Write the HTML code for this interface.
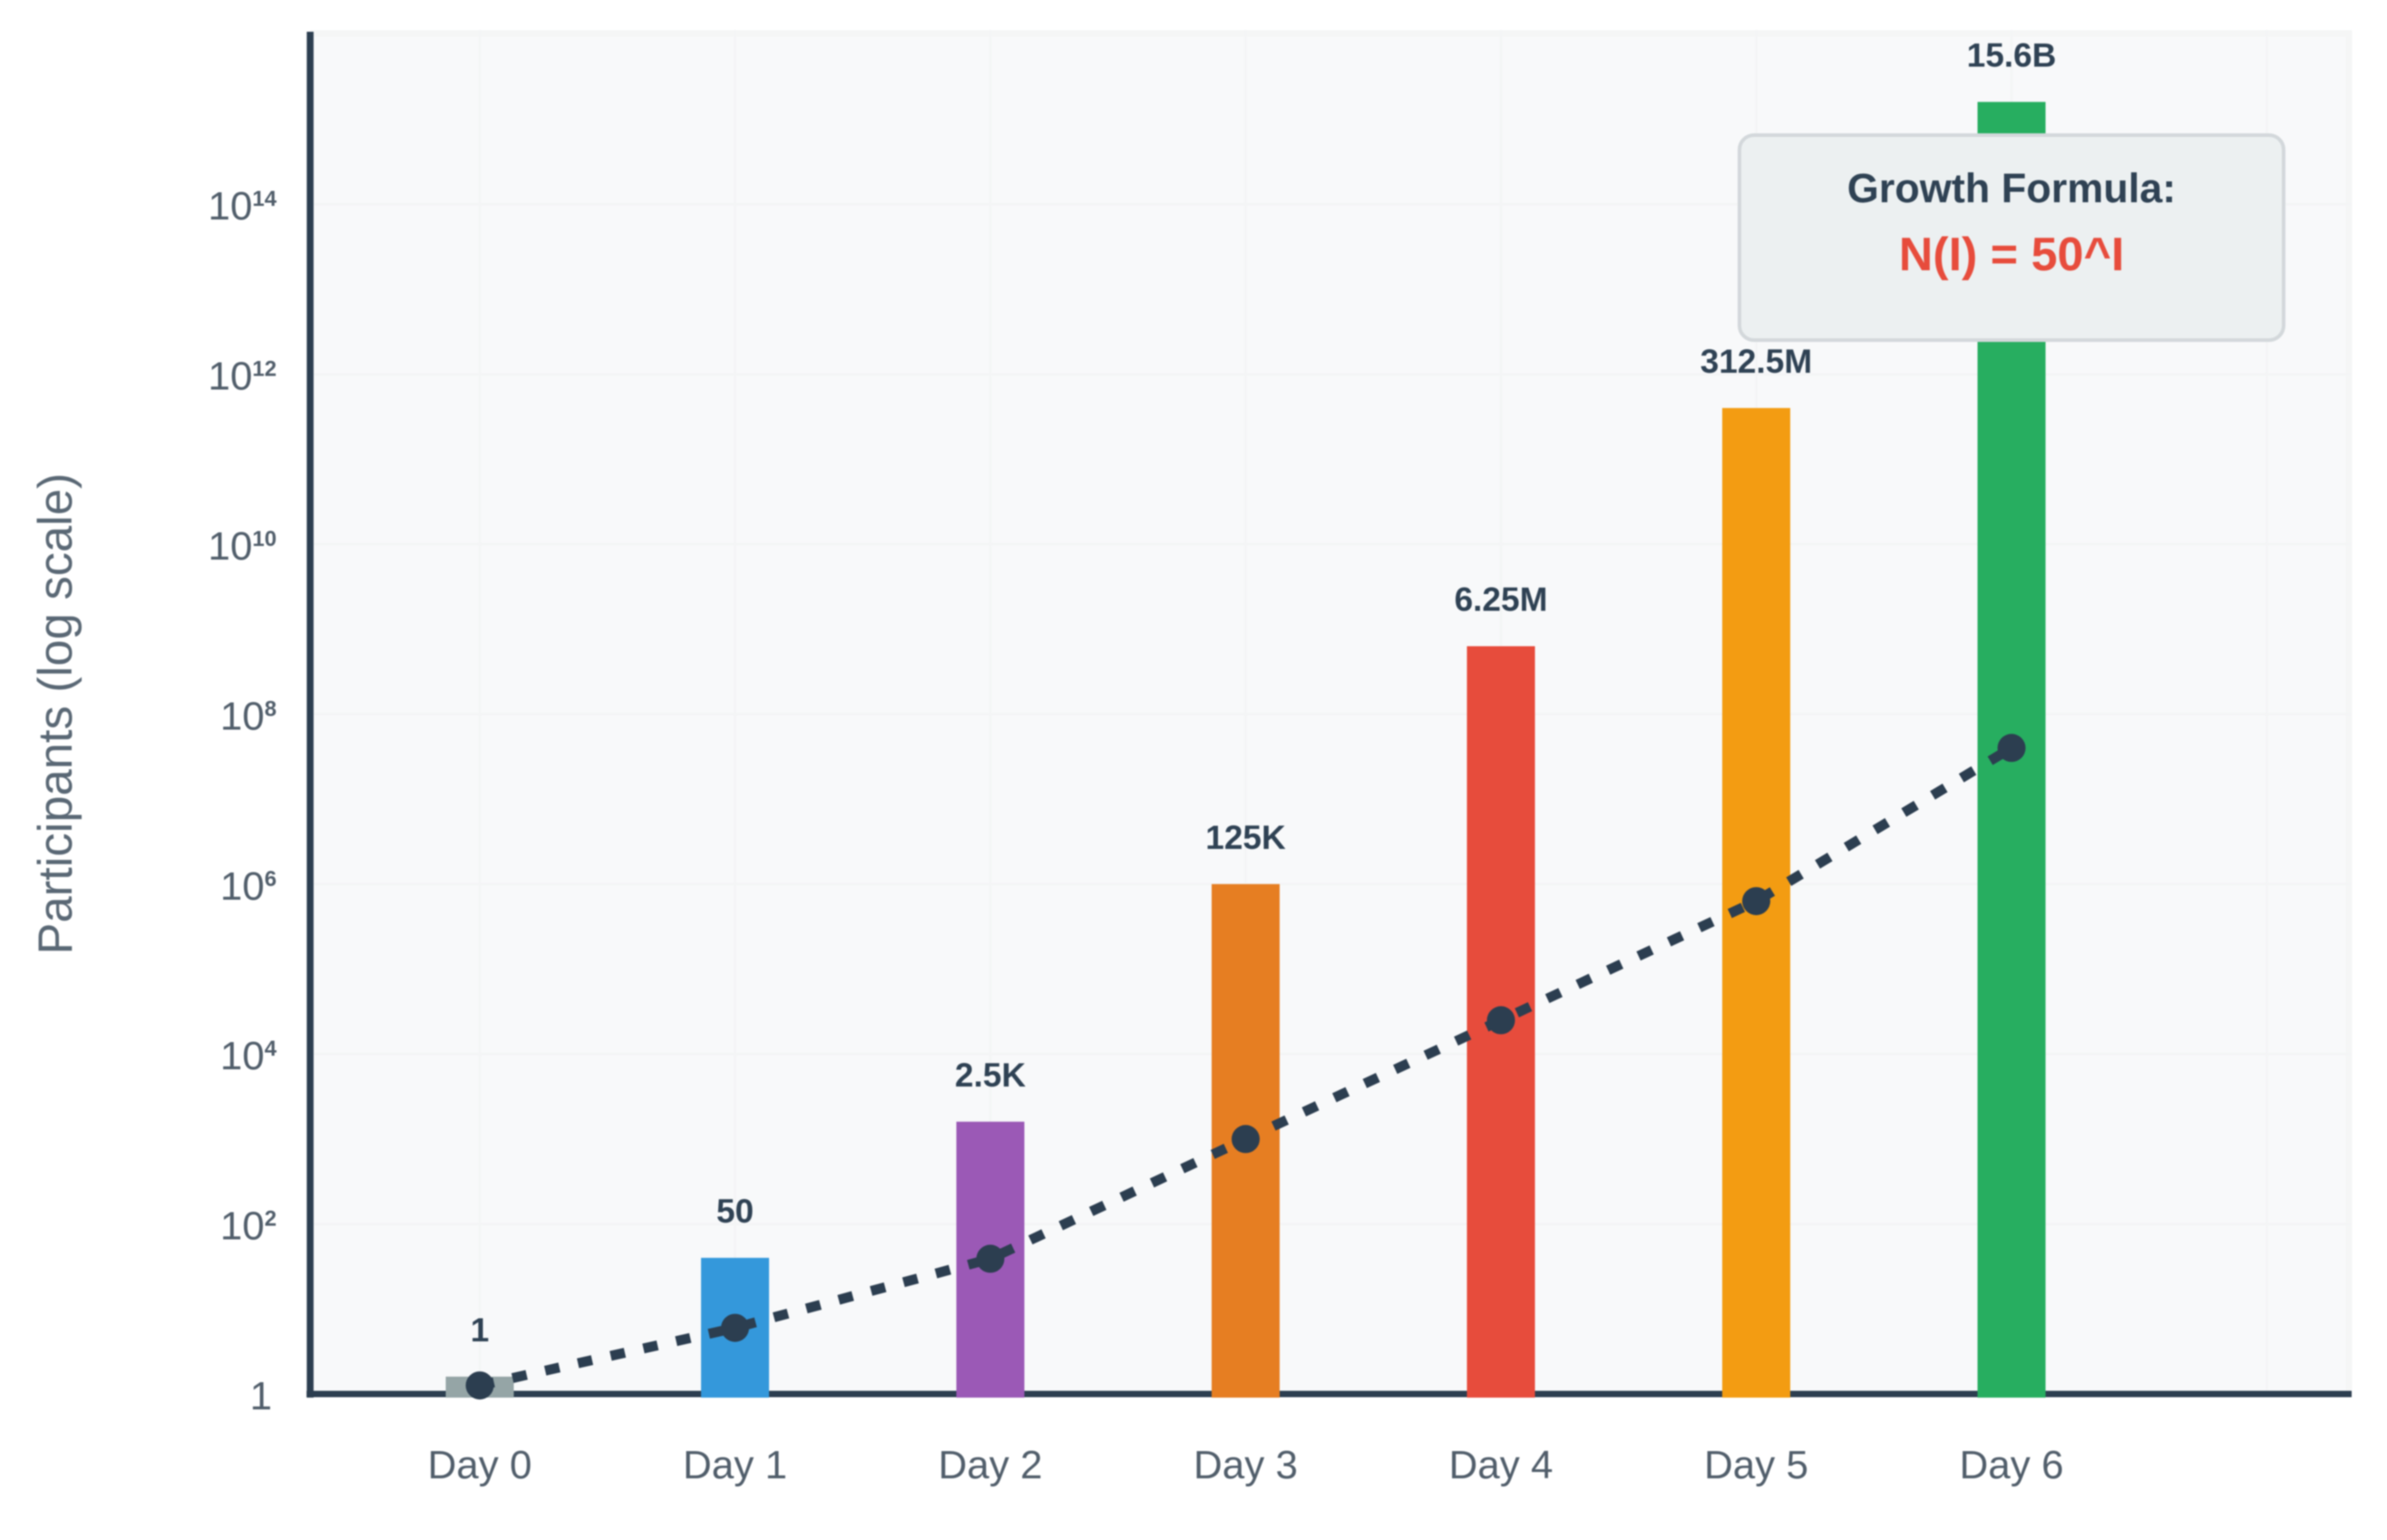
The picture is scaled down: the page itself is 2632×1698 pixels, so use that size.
<!DOCTYPE html>
<html lang="en">
<head>
<meta charset="utf-8">
<title>Participants growth chart</title>
<style>
html,body{margin:0;padding:0;background:#fff;width:2632px;height:1698px;overflow:hidden}
svg{display:block;font-family:"Liberation Sans",Arial,sans-serif;filter:blur(0.8px)}
</style>
</head>
<body>
<svg id="chart" xmlns="http://www.w3.org/2000/svg" width="2632" height="1698" viewBox="0 0 2632 1698">
  <rect x="342" y="33" width="2251" height="1504" fill="#f8f9fa"/>
  <path d="M342 37H2590V1537" fill="none" stroke="#f5f6f6" stroke-width="7"/>
  <g id="grid"></g>
  <line x1="338" y1="1537" x2="2593" y2="1537" stroke="#2c3e50" stroke-width="7"/>
  <line x1="342" y1="35" x2="342" y2="1541" stroke="#2c3e50" stroke-width="7.5"/>
  <g id="y-ticks"></g>
  <g id="x-ticks"></g>
  <text transform="translate(79,787) rotate(-90)" text-anchor="middle" font-size="52.5" fill="#5a6875">Participants (log scale)</text>
  <g id="bars"></g>
  <g id="bar-labels"></g>
  <g id="trend"></g>
  <g>
    <rect x="1918" y="149" width="600" height="226" rx="16" ry="16" fill="#ecf0f1" stroke="#d3d8db" stroke-width="4"/>
    <text x="2218" y="223" text-anchor="middle" font-size="45" font-weight="bold" fill="#2f4254">Growth Formula:</text>
    <text x="2218" y="298" text-anchor="middle" font-size="52" font-weight="bold" fill="#e74c3c">N(I) = 50^I</text>
  </g>
</svg>
<script>
const categories = ['Day 0','Day 1','Day 2','Day 3','Day 4','Day 5','Day 6'];
const barValues = [1.6, 40, 1600, 1e6, 6.3e8, 4e11, 1.6e15];
const barLabels = ['1','50','2.5K','125K','6.25M','312.5M','15.6B'];
const barColors = ['#95a5a6','#3498db','#9b59b6','#e67e22','#e74c3c','#f39c12','#27ae60'];
const lineValues = [1.26, 6, 39, 1000, 25000, 630000, 4e7];
const yTickValues = [1, 1e2, 1e4, 1e6, 1e8, 1e10, 1e12, 1e14];

const NS = 'http://www.w3.org/2000/svg';
function xScale(i){ return 529 + 281.5 * i; }
function yScale(v){ return 1537 - 93.7 * Math.log10(v); }
function make(tag, attrs, parent){
  const node = document.createElementNS(NS, tag);
  Object.keys(attrs).forEach(function(k){ node.setAttribute(k, attrs[k]); });
  parent.appendChild(node);
  return node;
}
const gridG = document.getElementById('grid');
const yTickG = document.getElementById('y-ticks');
const xTickG = document.getElementById('x-ticks');
const barG = document.getElementById('bars');
const labelG = document.getElementById('bar-labels');
const trendG = document.getElementById('trend');

yTickValues.forEach(function(v){
  const y = yScale(v);
  const exp = Math.round(Math.log10(v));
  let el = make('line', {x1:346, x2:2593, y1:y, y2:y, stroke:'#f4f5f6', 'stroke-width':3}, gridG);
  
  
  el = make('text', {x:305, y:y + 17, 'text-anchor':'end', 'font-size':44, fill:'#515e6b'}, yTickG);
  
  
  if (exp === 0) {
    el.setAttribute('y', y + 17);
    el.setAttribute('x', 300);
    el.textContent = '1';
  } else {
    el.textContent = '10';
    const sup = make('tspan', {dy:-15, 'font-size':24, 'font-weight':'bold'}, el);
    sup.textContent = String(exp);
  }
});

categories.concat(['']).forEach(function(c, i){
  const el = make('line', {x1:xScale(i), x2:xScale(i), y1:33, y2:1533, stroke:'#f4f5f6', 'stroke-width':3}, gridG);
  
  
});

categories.forEach(function(c, i){
  const x = xScale(i);
  let el = make('text', {x:x, y:1630, 'text-anchor':'middle', 'font-size':44, fill:'#515e6b'}, xTickG);
  
  
  el.textContent = c;

  const top = yScale(barValues[i]);
  el = make('rect', {x:x - 37.5, y:top, width:75, height:1541 - top, fill:barColors[i]}, barG);
  
  

  el = make('text', {x:x, y:top - 39, 'text-anchor':'middle', 'font-size':37, 'font-weight':'bold', fill:'#2f4254'}, labelG);
  
  
  el.textContent = barLabels[i];
});

const linePoints = lineValues.map(function(v, i){ return xScale(i) + ',' + yScale(v); }).join(' ');
const trendLine = make('polyline', {points:linePoints, fill:'none', stroke:'#2c3e50', 'stroke-width':11, 'stroke-dasharray':'16 21'}, trendG);


lineValues.forEach(function(v, i){
  const el = make('circle', {cx:xScale(i), cy:yScale(v), r:15.5, fill:'#2c3e50'}, trendG);
  
  
});
</script>
</body>
</html>
